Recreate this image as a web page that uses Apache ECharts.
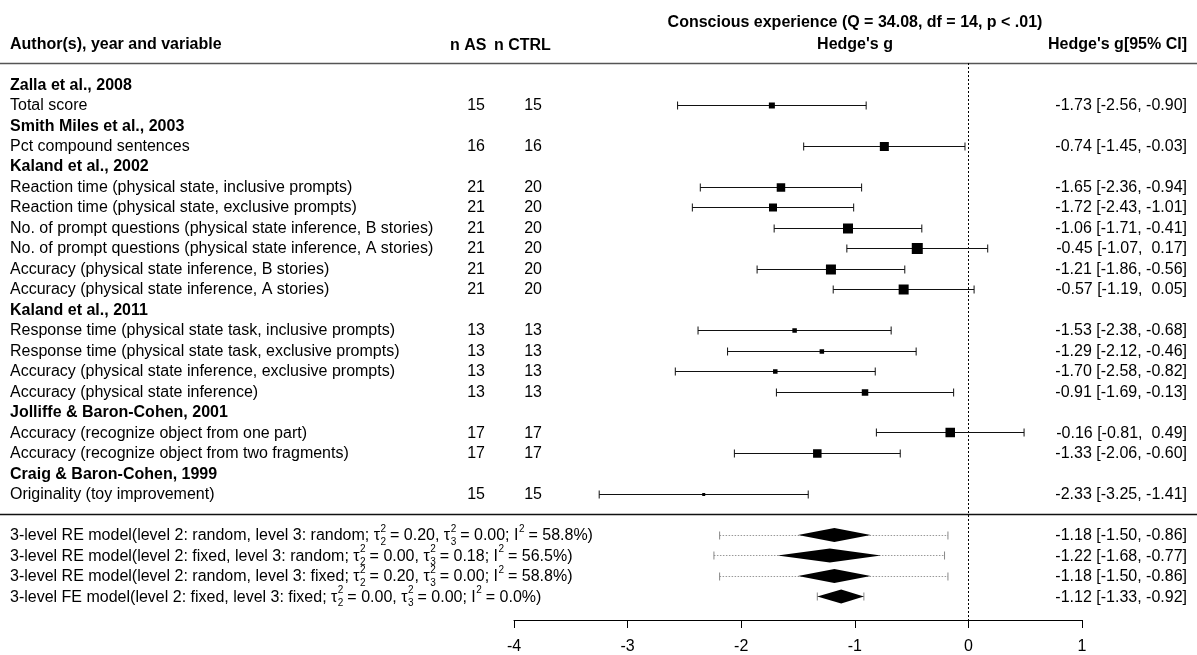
<!DOCTYPE html>
<html><head><meta charset="utf-8">
<script src="https://cdn.jsdelivr.net/npm/echarts@6/dist/echarts.min.js"></script>
<style>html,body{margin:0;padding:0;background:#fff}#c{width:1197px;height:655px}</style>
</head><body><div id="c"></div>
<script>
// ---------- data ----------
const rowLabels = [
  "Zalla et al., 2008",
  "Total score",
  "Smith Miles et al., 2003",
  "Pct compound sentences",
  "Kaland et al., 2002",
  "Reaction time (physical state, inclusive prompts)",
  "Reaction time (physical state, exclusive prompts)",
  "No. of prompt questions (physical state inference, B stories)",
  "No. of prompt questions (physical state inference, A stories)",
  "Accuracy (physical state inference, B stories)",
  "Accuracy (physical state inference, A stories)",
  "Kaland et al., 2011",
  "Response time (physical state task, inclusive prompts)",
  "Response time (physical state task, exclusive prompts)",
  "Accuracy (physical state inference, exclusive prompts)",
  "Accuracy (physical state inference)",
  "Jolliffe & Baron-Cohen, 2001",
  "Accuracy (recognize object from one part)",
  "Accuracy (recognize object from two fragments)",
  "Craig & Baron-Cohen, 1999",
  "Originality (toy improvement)"
];
const studyRows = [0, 2, 4, 11, 16, 19];
const nAS   = [null,15,null,16,null,21,21,21,21,21,21,null,13,13,13,13,null,17,17,null,15];
const nCTRL = [null,15,null,16,null,20,20,20,20,20,20,null,13,13,13,13,null,17,17,null,15];
const est    = [null,-1.73,null,-0.74,null,-1.65,-1.72,-1.06,-0.45,-1.21,-0.57,null,-1.53,-1.29,-1.70,-0.91,null,-0.16,-1.33,null,-2.33];
const ciLow  = [null,-2.56,null,-1.45,null,-2.36,-2.43,-1.71,-1.07,-1.86,-1.19,null,-2.38,-2.12,-2.58,-1.69,null,-0.81,-2.06,null,-3.25];
const ciHigh = [null,-0.90,null,-0.03,null,-0.94,-1.01,-0.41, 0.17,-0.56, 0.05,null,-0.68,-0.46,-0.82,-0.13,null, 0.49,-0.60,null,-1.41];
const boxSize = [null,6,null,9,null,8.5,8,10,11,10,10,null,4.5,4.5,4.5,6.5,null,9.5,8.5,null,3];

const modelType = ["RE","RE","RE","FE"];
const level2 = ["random","fixed","random","fixed"];
const level3 = ["random","random","fixed","fixed"];
const tau2 = [0.20, 0.00, 0.20, 0.00];
const tau3 = [0.00, 0.18, 0.00, 0.00];
const iSq  = [58.8, 56.5, 58.8, 0.0];
const sumEst  = [-1.18, -1.22, -1.18, -1.12];
const sumLow  = [-1.50, -1.68, -1.50, -1.33];
const sumHigh = [-0.86, -0.77, -0.86, -0.92];
const predLow  = [-2.19, -2.24, -2.19, -1.33];
const predHigh = [-0.18, -0.21, -0.18, -0.92];
const sumFirstRow = 22;

const xTicks = [-4, -3, -2, -1, 0, 1];
const titleText = "Conscious experience (Q = 34.08, df = 14, p < .01)";

// ---------- layout ----------
const Y_MIN = -1.03, Y_MAX = 26.15;
const FF = "'Liberation Sans', Arial, sans-serif";
const REG = "16px " + FF, BOLD = "bold 16px " + FF, SMALL = "10px " + FF;
const TY = 1; // text baseline nudge
const ctx = document.createElement('canvas').getContext('2d');
function tw(s, font){ ctx.font = font; return ctx.measureText(s).width; }
function txt(s, x, y, font, align, color){
  return {type:'text', style:{text:s, x:x, y:y + TY, font:font, fill:color||'#000',
    align:align, verticalAlign:'middle', textAlign:align, textVerticalAlign:'middle'}};
}
function f2(v){ return v.toFixed(2).padStart(5, ' '); }
function ciText(e, l, h){ return f2(e) + " [" + f2(l) + ", " + f2(h) + "]"; }

function renderStudy(params, api){
  const i = params.dataIndex;
  const y = api.coord([0, i])[1];
  const ch = [];
  ch.push(txt(rowLabels[i], 10, y, studyRows.indexOf(i) >= 0 ? BOLD : REG, 'left'));
  if (nAS[i] != null){
    ch.push(txt(String(nAS[i]), 485, y, REG, 'right'));
    ch.push(txt(String(nCTRL[i]), 542, y, REG, 'right'));
  }
  if (est[i] != null){
    const xl = api.coord([ciLow[i], i])[0], xh = api.coord([ciHigh[i], i])[0], xe = api.coord([est[i], i])[0];
    const yy = Math.round(y) + 0.5;
    ch.push({type:'line', shape:{x1:xl, y1:yy, x2:xh, y2:yy}, style:{stroke:'#111', lineWidth:1}});
    ch.push({type:'line', shape:{x1:xl, y1:yy-4, x2:xl, y2:yy+4}, style:{stroke:'#111', lineWidth:1}});
    ch.push({type:'line', shape:{x1:xh, y1:yy-4, x2:xh, y2:yy+4}, style:{stroke:'#111', lineWidth:1}});
    const s = boxSize[i];
    ch.push({type:'rect', shape:{x:xe-s/2, y:yy-s/2, width:s, height:s}, style:{fill:'#000'}});
    ch.push(txt(ciText(est[i], ciLow[i], ciHigh[i]), 1187, y, REG, 'right'));
  }
  return {type:'group', children:ch};
}

function renderSummary(params, api){
  const k = params.dataIndex;
  const row = sumFirstRow + k;
  const y = api.coord([0, row])[1];
  const yy = Math.round(y) + 0.5;
  const ch = [];
  const parts = [
    "3-level " + modelType[k] + " model(level 2: " + level2[k] + ", level 3: " + level3[k] + "; \u03C4",
    {sup:"2", sub:"2"},
    " = " + tau2[k].toFixed(2) + ", \u03C4",
    {sup:"2", sub:"3"},
    " = " + tau3[k].toFixed(2) + "; I",
    {sup:"2"},
    " = " + iSq[k].toFixed(1) + "%)"
  ];
  let x = 10;
  parts.forEach(p => {
    if (typeof p === 'string'){
      ch.push(txt(p, x, y, REG, 'left'));
      x += tw(p, REG);
    } else {
      let w = 0;
      if (p.sup){ ch.push(txt(p.sup, x + 0.5, y - 7, SMALL, 'left')); w = Math.max(w, tw(p.sup, SMALL)); }
      if (p.sub){ ch.push(txt(p.sub, x + 0.5, y + 6, SMALL, 'left')); w = Math.max(w, tw(p.sub, SMALL)); }
      x += w;
    }
  });
  const pl = api.coord([predLow[k], row])[0], ph = api.coord([predHigh[k], row])[0];
  ch.push({type:'line', shape:{x1:pl, y1:yy, x2:ph, y2:yy}, style:{stroke:'#999', lineWidth:1, lineDash:[1.5,1.5]}});
  ch.push({type:'line', shape:{x1:pl, y1:yy-4, x2:pl, y2:yy+4}, style:{stroke:'#888', lineWidth:1}});
  ch.push({type:'line', shape:{x1:ph, y1:yy-4, x2:ph, y2:yy+4}, style:{stroke:'#888', lineWidth:1}});
  const xl = api.coord([sumLow[k], row])[0], xh = api.coord([sumHigh[k], row])[0], xe = api.coord([sumEst[k], row])[0];
  ch.push({type:'polygon', shape:{points:[[xl, y],[xe, y-7],[xh, y],[xe, y+7]]}, style:{fill:'#000'}});
  ch.push(txt(ciText(sumEst[k], sumLow[k], sumHigh[k]), 1187, y, REG, 'right'));
  return {type:'group', children:ch};
}

function renderRules(params, api){
  const r = params.dataIndex === 0 ? Y_MIN : 21;
  const y = Math.round(api.coord([0, r])[1]) + 0.5;
  return {type:'line', shape:{x1:0, y1:y, x2:api.getWidth(), y2:y},
    style:{stroke: params.dataIndex === 0 ? '#555' : '#111', lineWidth:1.6}};
}
function renderZero(params, api){
  const p1 = api.coord([0, Y_MIN]), p2 = api.coord([0, Y_MAX]);
  const x = Math.round(p1[0]) + 0.5;
  return {type:'line', shape:{x1:x, y1:p1[1], x2:x, y2:p2[1]}, style:{stroke:'#000', lineWidth:1, lineDash:[2,2]}};
}

const chart = echarts.init(document.getElementById('c'), null, {renderer:'canvas'});
const hdr = (s, x, y, align) => ({type:'text', x:x, y:y, style:{text:s, font:BOLD, fill:'#000', align:align, verticalAlign:'middle', textAlign:align, textVerticalAlign:'middle'}});
chart.setOption({
  animation:false,
  backgroundColor:'#fff',
  grid:{left:514, right:115, top:63, bottom:34, containLabel:false},
  xAxis:{type:'value', min:-4, max:1, interval:1, position:'bottom',
    axisLine:{show:true, onZero:false, lineStyle:{color:'#000', width:1}},
    axisTick:{show:true, length:8, inside:false, lineStyle:{color:'#000', width:1}},
    axisLabel:{show:true, color:'#000', fontSize:16, fontFamily:FF, margin:19,
      formatter: v => xTicks.indexOf(v) >= 0 ? String(v) : ''},
    splitLine:{show:false}},
  yAxis:{type:'value', min:Y_MIN, max:Y_MAX, inverse:true, show:false, splitLine:{show:false}},
  graphic:[
    hdr(titleText, 855, 23, 'center'),
    hdr("Author(s), year and variable", 10, 45, 'left'),
    hdr("n AS", 450, 46, 'left'),
    hdr("n CTRL", 494, 46, 'left'),
    hdr("Hedge's g", 855, 45, 'center'),
    hdr("Hedge's g[95% CI]", 1187, 45, 'right')
  ],
  series:[
    {type:'custom', name:'rules', clip:false, silent:true, renderItem:renderRules, data:[[0],[1]]},
    {type:'custom', name:'zero', clip:false, silent:true, renderItem:renderZero, data:[[0]]},
    {type:'custom', name:'studies', clip:false, silent:true, renderItem:renderStudy, data:rowLabels.map((_, i) => [i])},
    {type:'custom', name:'summary', clip:false, silent:true, renderItem:renderSummary, data:sumEst.map((_, i) => [i])}
  ]
});
</script></body></html>
